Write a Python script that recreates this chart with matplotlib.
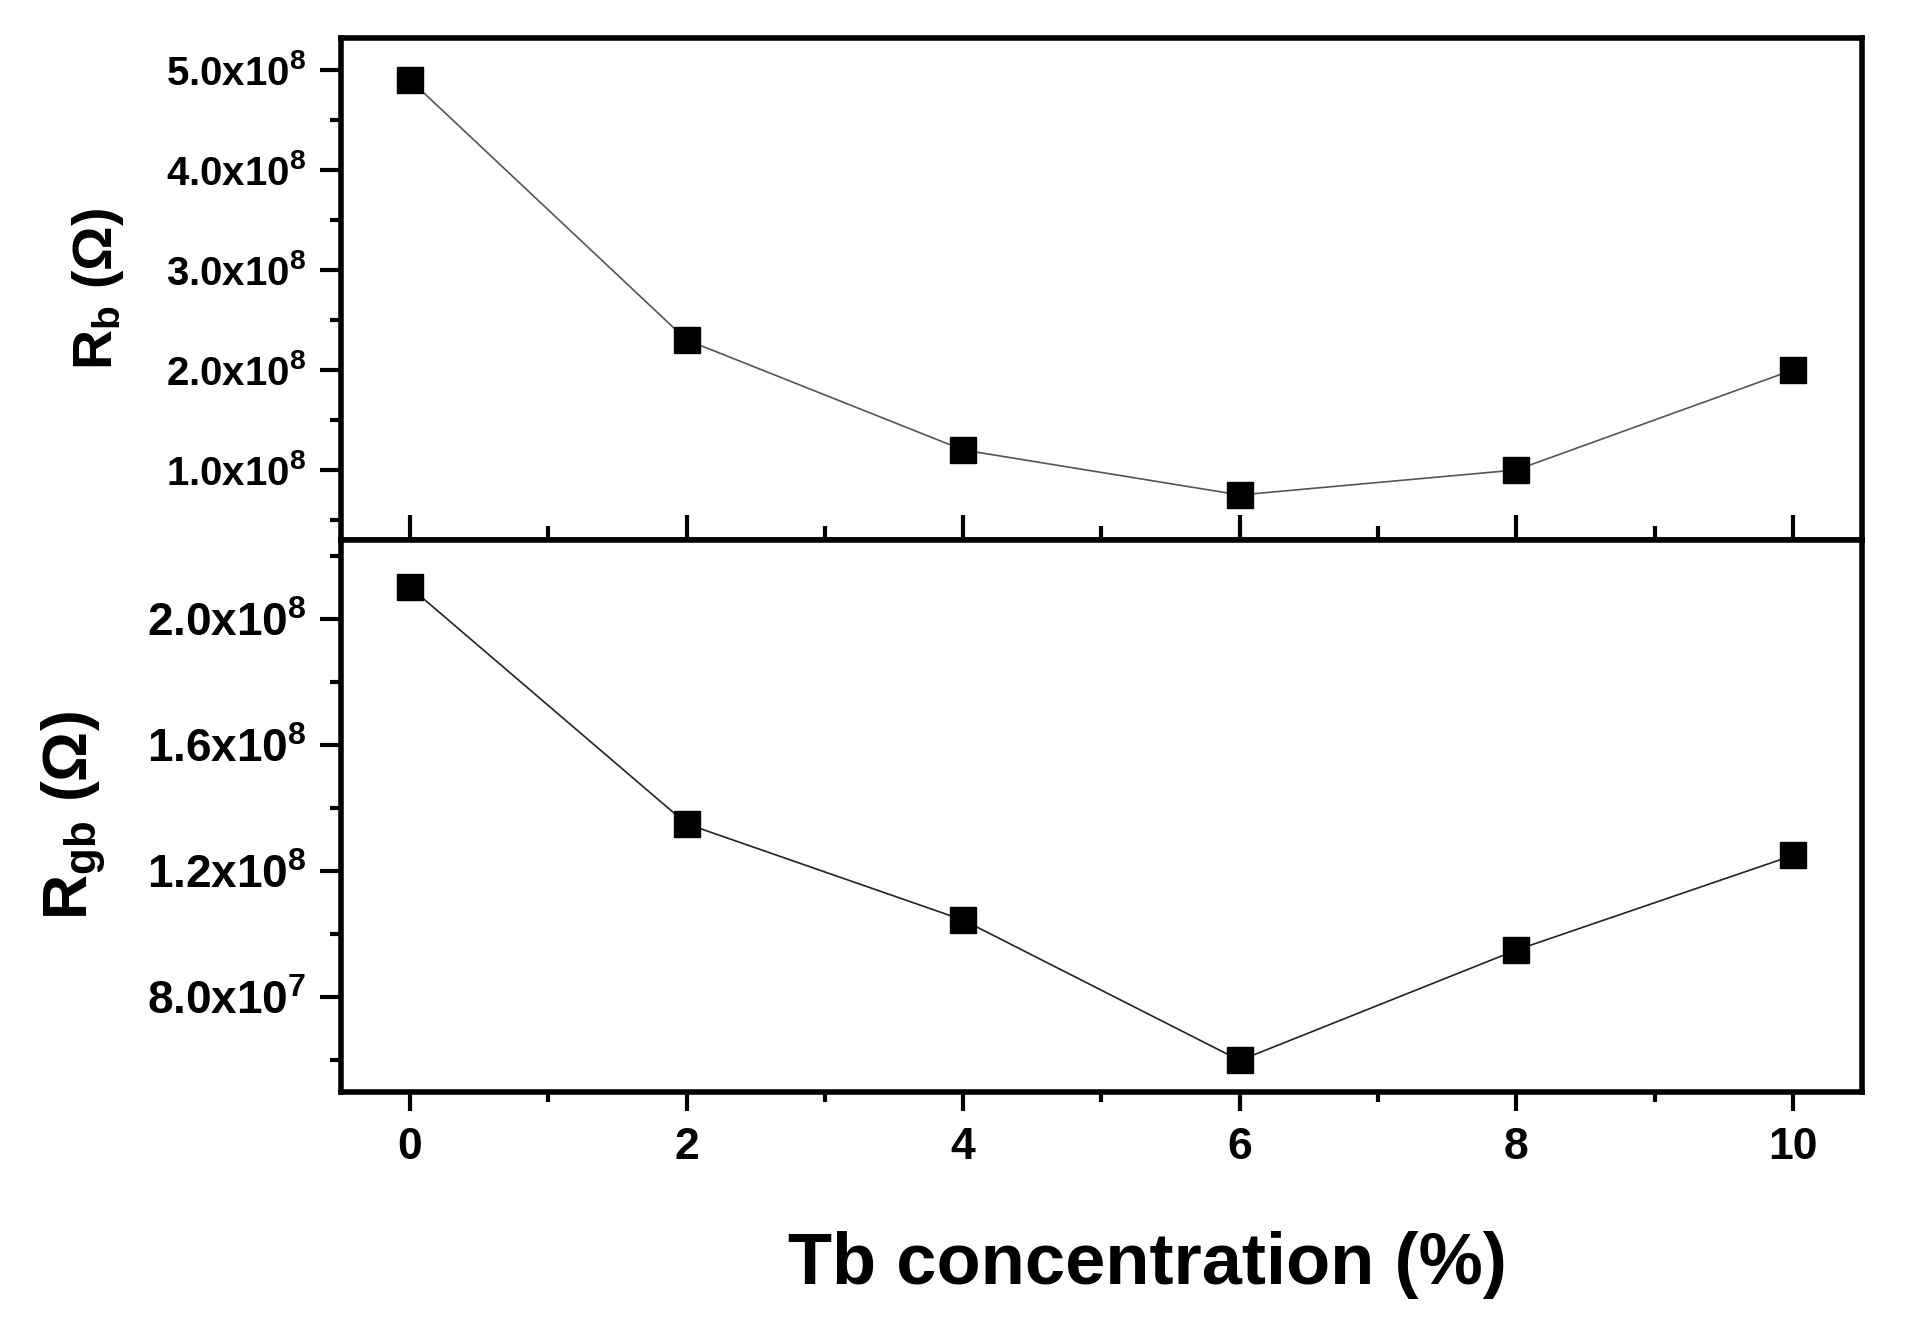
import numpy as np
import matplotlib
matplotlib.use("Agg")
import matplotlib.pyplot as plt
from matplotlib.ticker import MultipleLocator, FuncFormatter

plt.rcParams['font.family'] = ['Liberation Sans', 'DejaVu Sans']
plt.rcParams['font.weight'] = 'bold'
plt.rcParams['mathtext.fontset'] = 'custom'
plt.rcParams['mathtext.rm'] = 'Liberation Sans'
plt.rcParams['mathtext.bf'] = 'Liberation Sans:bold'
plt.rcParams['mathtext.it'] = 'Liberation Sans:italic'
plt.rcParams['mathtext.default'] = 'bf'

# data
tb_conc = [0, 2, 4, 6, 8, 10]
r_b = [4.9e8, 2.3e8, 1.2e8, 0.75e8, 1.0e8, 2.0e8]
r_gb = [2.1e8, 1.35e8, 1.045e8, 0.6e8, 0.95e8, 1.25e8]


def sci_label(v, pos):
    # Origin style "5.0x10^8"
    mant, exp = f"{v:.1e}".split("e")
    return r"$\mathbf{%sx10}^{\mathrm{%d}}$" % (mant, int(exp))


fig = plt.figure(figsize=(19.09, 13.28), dpi=100)
left, width = 0.1786, 0.7968
ax1 = fig.add_axes([left, 0.5934, width, 0.3780])
ax2 = fig.add_axes([left, 0.1777, width, 0.4157])

for ax in (ax1, ax2):
    for s in ax.spines.values():
        s.set_linewidth(4)
    ax.set_xlim(-0.5, 10.5)
    ax.xaxis.set_major_locator(MultipleLocator(2))
    ax.xaxis.set_minor_locator(MultipleLocator(1))
    ax.yaxis.set_major_formatter(FuncFormatter(sci_label))
    ax.tick_params(axis='y', which='major', direction='out', length=15, width=3, pad=10)
    ax.tick_params(axis='y', which='minor', direction='out', length=8, width=3)

# top panel: bulk resistance
ax1.plot(tb_conc, r_b, color='#555555', lw=1.2, marker='s', ms=18.5,
         mfc='black', mec='black')
ax1.set_ylim(0.3e8, 5.32e8)
ax1.yaxis.set_major_locator(MultipleLocator(1e8))
ax1.yaxis.set_minor_locator(MultipleLocator(0.5e8))
ax1.tick_params(axis='y', which='major', labelsize=29)
ax1.tick_params(axis='x', which='major', direction='inout', length=36, width=3,
                labelbottom=False)
ax1.tick_params(axis='x', which='minor', direction='inout', length=20, width=3)
ax1.set_ylabel(r"R$_\mathbf{b}$ (Ω)", fontsize=40, fontweight='bold', va='center')
ax1.yaxis.set_label_coords(-0.160, 0.5)

# bottom panel: grain boundary resistance
ax2.plot(tb_conc, r_gb, color='#222222', lw=1.2, marker='s', ms=18.5,
         mfc='black', mec='black')
ax2.set_ylim(0.5e8, 2.25e8)
ax2.yaxis.set_major_locator(MultipleLocator(0.4e8))
ax2.yaxis.set_minor_locator(MultipleLocator(0.2e8))
ax2.tick_params(axis='y', which='major', labelsize=33)
ax2.tick_params(axis='x', which='major', direction='out', length=14, width=3,
                labelsize=32, pad=11)
ax2.tick_params(axis='x', which='minor', direction='out', length=7, width=3)
ax2.set_ylabel(r"R$_\mathbf{gb}$ (Ω)", fontsize=45, fontweight='bold', va='center')
ax2.yaxis.set_label_coords(-0.176, 0.5)
ax2.set_xlabel("Tb concentration (%)", fontsize=52, fontweight='bold', va='center')
ax2.xaxis.set_label_coords(0.53, -0.313)

fig.savefig("out.png", dpi=100)
